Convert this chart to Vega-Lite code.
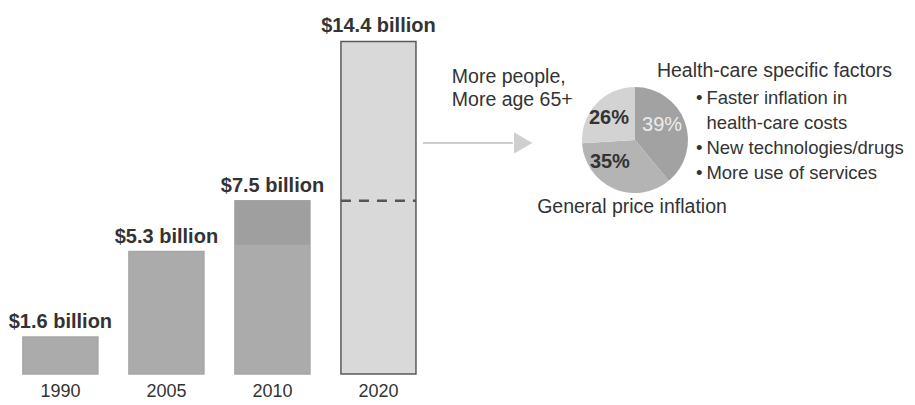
{
  "$schema": "https://vega.github.io/schema/vega-lite/v6.json",
  "padding": {"left": 0, "top": 16, "right": 0, "bottom": 0},
  "background": "white",
  "spacing": 0,
  "bounds": "flush",
  "resolve": {"scale": {"color": "independent", "stroke": "independent"}},
  "config": {
    "view": {"stroke": null},
    "font": "Liberation Sans, Arial, sans-serif",
    "text": {"font": "Liberation Sans, Arial, sans-serif"}
  },
  "datasets": {
    "bars": [
      {"year": "1990", "cost": 1.6, "label": "$1.6 billion", "status": "actual"},
      {"year": "2005", "cost": 5.3, "label": "$5.3 billion", "status": "actual"},
      {"year": "2010", "cost": 7.5, "label": "$7.5 billion", "status": "actual"},
      {"year": "2020", "cost": 14.4, "label": "$14.4 billion", "status": "projected"}
    ],
    "increase2010": [{"year": "2010", "from": 5.6, "to": 7.5}],
    "level2020": [{"year": "2020", "level": 7.5}],
    "pie": [
      {"factor": "Health-care specific factors", "share": 0.39, "order": 1},
      {"factor": "General price inflation", "share": 0.35, "order": 2},
      {"factor": "More people, More age 65+", "share": 0.26, "order": 3}
    ]
  },
  "hconcat": [
    {
      "width": 420,
      "height": 358,
      "layer": [
        {
          "data": {"name": "bars"},
          "mark": {"type": "bar", "strokeWidth": 1.5},
          "encoding": {
            "x": {
              "field": "year", "type": "nominal",
              "scale": {"paddingInner": 0.2925, "paddingOuter": 0.127, "align": 0.85},
              "axis": {"title": null, "domain": false, "ticks": false, "labelAngle": 0, "labelFont": "Liberation Sans, Arial, sans-serif", "labelFontSize": 18, "labelColor": "#333333", "labelPadding": 8}
            },
            "y": {"field": "cost", "type": "quantitative", "scale": {"domain": [0, 15.5], "nice": false}, "axis": null},
            "color": {"field": "status", "type": "nominal", "scale": {"domain": ["actual", "projected"], "range": ["#ababab", "#d9d9d9"]}, "legend": null},
            "stroke": {"field": "status", "type": "nominal", "scale": {"domain": ["actual", "projected"], "range": ["#a6a6a6", "#5a5a5a"]}, "legend": null}
          }
        },
        {
          "data": {"name": "increase2010"},
          "mark": {"type": "bar", "color": "#9f9f9f"},
          "encoding": {
            "x": {"field": "year", "type": "nominal"},
            "y": {"field": "to", "type": "quantitative"},
            "y2": {"field": "from"}
          }
        },
        {
          "data": {"name": "level2020"},
          "mark": {"type": "rule", "strokeDash": [10, 8], "strokeWidth": 2.5, "color": "#555555"},
          "encoding": {
            "x": {"field": "year", "type": "nominal", "bandPosition": 0},
            "x2": {"field": "year", "bandPosition": 1},
            "y": {"field": "level", "type": "quantitative"}
          }
        },
        {
          "data": {"name": "bars"},
          "mark": {"type": "text", "fontWeight": "bold", "fontSize": 20, "baseline": "alphabetic", "dy": -9, "color": "#333333"},
          "encoding": {
            "x": {"field": "year", "type": "nominal"},
            "y": {"field": "cost", "type": "quantitative"},
            "text": {"field": "label"}
          }
        }
      ]
    },
    {
      "width": 430,
      "height": 248,
      "layer": [
        {
          "data": {"name": "pie"},
          "mark": {"type": "arc", "outerRadius": 53},
          "encoding": {
            "theta": {"field": "share", "type": "quantitative", "stack": true},
            "order": {"field": "order"},
            "color": {"field": "factor", "type": "nominal", "scale": {"domain": ["Health-care specific factors", "General price inflation", "More people, More age 65+"], "range": ["#a2a2a2", "#b4b4b4", "#d3d3d3"]}, "legend": null}
          }
        },
        {
          "data": {"name": "pie"},
          "mark": {"type": "text", "radius": 33, "fontSize": 20, "fontWeight": {"expr": "datum.share > 0.38 ? 'normal' : 'bold'"}, "dx": {"expr": "datum.share == 0.35 ? -12 : (datum.share > 0.38 ? -4 : -2)"}, "dy": {"expr": "datum.share == 0.35 ? -8 : (datum.share > 0.38 ? -4 : 1)"}},
          "encoding": {
            "theta": {"field": "share", "type": "quantitative", "stack": true},
            "order": {"field": "order"},
            "text": {"field": "share", "format": ".0%"},
            "color": {"condition": {"test": "datum.share > 0.38", "value": "#ececec"}, "value": "#333333"}
          }
        },
        {
          "data": {"values": [{"part": "arrow"}]},
          "mark": {"type": "rule", "color": "#bdbdbd", "strokeWidth": 1.5},
          "encoding": {
            "x": {"datum": 0.7, "type": "quantitative", "scale": {"domain": [0, 100]}, "axis": null},
            "x2": {"datum": 21.6},
            "y": {"datum": 51.2, "type": "quantitative", "scale": {"domain": [0, 100], "reverse": true}, "axis": null}
          }
        },
        {
          "data": {"values": [{"part": "arrowhead"}]},
          "mark": {"type": "point", "shape": "triangle-right", "filled": true, "size": 450, "color": "#cfcfcf", "opacity": 1},
          "encoding": {
            "x": {"datum": 24.0, "type": "quantitative"},
            "y": {"datum": 51.2, "type": "quantitative"}
          }
        },
        {
          "data": {"values": [{"note": "More people,\nMore age 65+"}]},
          "mark": {"type": "text", "align": "left", "baseline": "alphabetic", "fontSize": 19.5, "lineBreak": "\n", "lineHeight": 23, "color": "#333333"},
          "encoding": {
            "x": {"datum": 7.4, "type": "quantitative"},
            "y": {"datum": 27.0, "type": "quantitative"},
            "text": {"field": "note"}
          }
        },
        {
          "data": {"values": [{"note": "Health-care specific factors"}]},
          "mark": {"type": "text", "align": "left", "baseline": "alphabetic", "fontSize": 19.5, "color": "#333333"},
          "encoding": {
            "x": {"datum": 55.1, "type": "quantitative"},
            "y": {"datum": 24.6, "type": "quantitative"},
            "text": {"field": "note"}
          }
        },
        {
          "data": {"values": [{"note": "\u2022"}]},
          "mark": {"type": "text", "align": "left", "baseline": "alphabetic", "fontSize": 18.5, "color": "#333333"},
          "encoding": {
            "x": {"datum": 64.2, "type": "quantitative"},
            "y": {"datum": 35.5, "type": "quantitative"},
            "text": {"field": "note"}
          }
        },
        {
          "data": {"values": [{"note": "\u2022\n\u2022"}]},
          "mark": {"type": "text", "align": "left", "baseline": "alphabetic", "fontSize": 18.5, "lineBreak": "\n", "lineHeight": 25, "color": "#333333"},
          "encoding": {
            "x": {"datum": 64.2, "type": "quantitative"},
            "y": {"datum": 55.66, "type": "quantitative"},
            "text": {"field": "note"}
          }
        },
        {
          "data": {"values": [{"note": "Faster inflation in\nhealth-care costs\nNew technologies/drugs\nMore use of services"}]},
          "mark": {"type": "text", "align": "left", "baseline": "alphabetic", "fontSize": 18.5, "lineBreak": "\n", "lineHeight": 25, "color": "#333333"},
          "encoding": {
            "x": {"datum": 66.6, "type": "quantitative"},
            "y": {"datum": 35.5, "type": "quantitative"},
            "text": {"field": "note"}
          }
        },
        {
          "data": {"values": [{"note": "General price inflation"}]},
          "mark": {"type": "text", "align": "center", "baseline": "alphabetic", "fontSize": 19.5, "color": "#333333"},
          "encoding": {
            "x": {"datum": 49.3, "type": "quantitative"},
            "y": {"datum": 79.4, "type": "quantitative"},
            "text": {"field": "note"}
          }
        }
      ]
    }
  ]
}
